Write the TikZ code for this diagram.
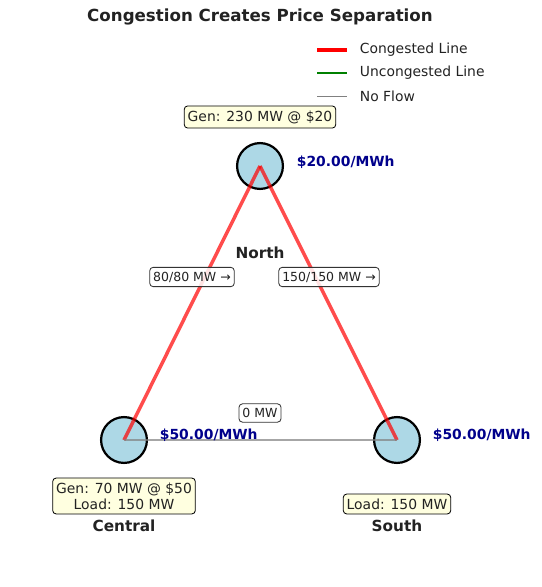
\documentclass[tikz,border=0pt]{standalone}
\usepackage{fontspec}
\setmainfont{DejaVu Sans}
\usetikzlibrary{positioning}
\definecolor{busfill}{HTML}{ADD8E6}
\definecolor{notefill}{HTML}{FFFFE0}
\definecolor{pricecol}{HTML}{00008B}
\definecolor{inkcol}{HTML}{222222}
\definecolor{flowgreen}{HTML}{008000}

\begin{document}
\begin{tikzpicture}[x=0.72pt,y=-0.72pt,text=inkcol,
    bus/.style={circle,draw=black,line width=1.6pt,fill=busfill,minimum size=33pt,inner sep=0pt},
    note/.style={draw=black,line width=0.6pt,fill=notefill,rounded corners=2.5pt,font=\fontsize{10}{11.5}\selectfont,align=center,inner xsep=2.5pt,inner ysep=3.3pt},
    flowtag/.style={draw=black!80,line width=0.6pt,fill=white,fill opacity=0.85,text opacity=1,rounded corners=2.5pt,font=\fontsize{9}{10}\selectfont,inner xsep=2.5pt,inner ysep=3.2pt},
    price/.style={anchor=west,text=pricecol,font=\fontsize{10}{12}\selectfont\bfseries},
    busname/.style={font=\fontsize{11}{13}\selectfont\bfseries},
    congested/.style={red,opacity=0.7,line width=2.5pt},
    noflow/.style={gray,opacity=0.7,line width=0.8pt},
    legcong/.style={red,line width=2.2pt},
    legfree/.style={flowgreen,line width=1.5pt},
    legnone/.style={gray,line width=0.7pt}]
  \useasboundingbox (0,0) rectangle (541,587);
  \node[font=\fontsize{12}{14}\selectfont\bfseries] (title) at (260,17) {Congestion Creates Price Separation};
  % legend
  \foreach \y/\sty/\lbl [count=\i] in {50/legcong/Congested Line,
      73/legfree/Uncongested Line,
      96/legnone/No Flow} {
    \coordinate (leg\i a) at (317,\y);
    \coordinate (leg\i b) at (347,\y);
    \draw[\sty] (leg\i a) -- (leg\i b);
    \node[anchor=west,font=\fontsize{10}{12}\selectfont] (legtext\i) at (355,\y) {\lbl};
  }
  % buses
  \node[bus] (north) at (260,166) {};
  \node[bus] (central) at (124,440) {};
  \node[bus] (south) at (397,440) {};
  % lines
  \draw[congested] (north.center) -- (central.center);
  \draw[congested] (north.center) -- (south.center);
  \draw[noflow] (central.center) -- (south.center);
  \node[flowtag] (ncflow) at (192,277) {80/80 MW →};
  \node[flowtag] (nsflow) at (329,277) {150/150 MW →};
  \node[flowtag] (csflow) at (260,413) {0 MW};
  % bus labels
  \node[busname] (northname) at (260,253) {North};
  \node[busname] (centralname) at (124,526) {Central};
  \node[busname] (southname) at (397,526) {South};
  \node[price] (northprice) at (292,162) {\$20.00/MWh};
  \node[price] (centralprice) at (155,435) {\$50.00/MWh};
  \node[price] (southprice) at (428,435) {\$50.00/MWh};
  \node[note] (northnote) at (260,117) {Gen: 230 MW @ \$20};
  \node[note] (centralnote) at (124,496) {Gen: 70 MW @ \$50\\Load: 150 MW};
  \node[note] (southnote) at (397,504) {Load: 150 MW};
\end{tikzpicture}
\end{document}
